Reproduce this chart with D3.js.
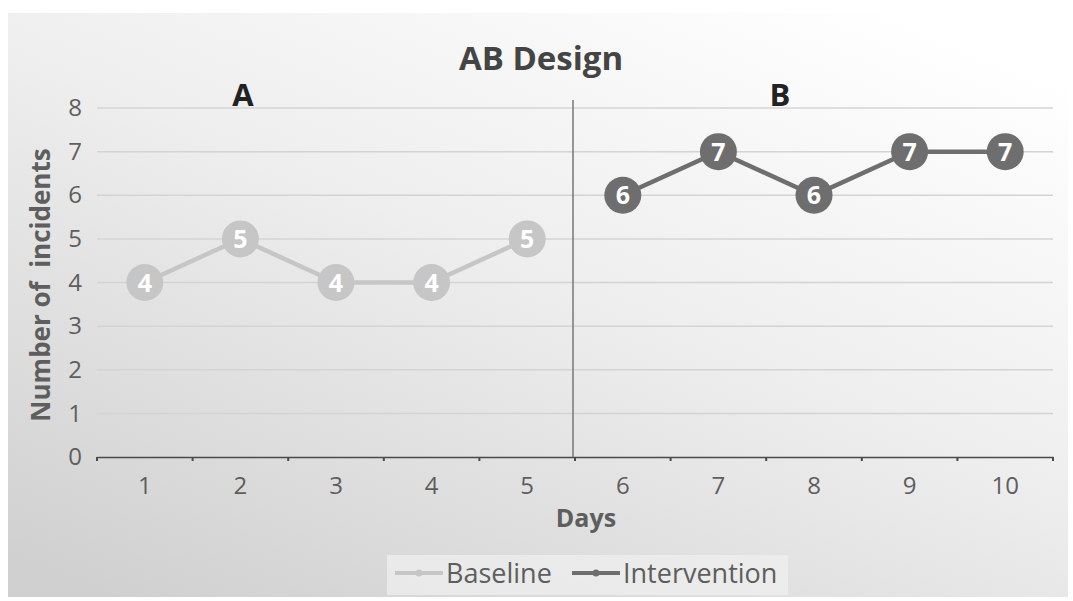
<!DOCTYPE html>
<html>
<head>
<meta charset="utf-8">
<script src="https://cdn.jsdelivr.net/npm/d3@7"></script>
<style>
  body { margin: 0; background: #fff; }
  text { font-family: "Open Sans", "Noto Sans", sans-serif; }
</style>
</head>
<body>
<div id="mychart"></div>
<script>
// AB design chart, baseline vs intervention

const chartTarget = "#mychart"

// data
const days = ["1", "2", "3", "4", "5", "6", "7", "8", "9", "10"]
const baselineDays = ["1", "2", "3", "4", "5"]
const baselineValues = [4, 5, 4, 4, 5]
const interventionDays = ["6", "7", "8", "9", "10"]
const interventionValues = [6, 7, 6, 7, 7]
const yTicks = [0, 1, 2, 3, 4, 5, 6, 7, 8]

const chartWidth = 1073
const chartHeight = 601

// margins
const marginTop = 108
const marginRight = 20
const marginBottom = 144
const marginLeft = 97

const baseColor = "#c6c6c6"
const intvColor = "#6e6e6e"
const textColor = "#5e5e5e"

const xScale = d3.scaleBand(days, [marginLeft, chartWidth - marginRight])
const yScale = d3.scaleLinear([0, 8], [chartHeight - marginBottom, marginTop])

const svg = d3.select(chartTarget)
  .append("svg")
  .attr("width", chartWidth)
  .attr("height", chartHeight)

// background panel with gradient
const defs = svg.append("defs")
const grad = defs.append("linearGradient")
  .attr("id", "bg")
  .attr("x1", "85%").attr("y1", "0%")
  .attr("x2", "10%").attr("y2", "100%")
grad.append("stop").attr("offset", "0%").attr("stop-color", "#ffffff")
grad.append("stop").attr("offset", "45%").attr("stop-color", "#eeeeee")
grad.append("stop").attr("offset", "100%").attr("stop-color", "#d0d0d0")

svg.append("rect")
  .attr("x", 8).attr("y", 13)
  .attr("width", 1060).attr("height", 584)
  .attr("fill", "url(#bg)")

// gridlines
svg.append("g")
  .selectAll("line")
  .data(yTicks.filter(d => d > 0))
  .join("line")
  .attr("x1", marginLeft)
  .attr("x2", chartWidth - marginRight)
  .attr("y1", d => yScale(d))
  .attr("y2", d => yScale(d))
  .attr("stroke", "#d4d4d4")
  .attr("stroke-width", 1.5)

// y axis labels
const yAxis = d3.axisLeft(yScale).tickValues(yTicks).tickSize(0).tickPadding(15)
svg.append("g")
  .attr("transform", `translate(${marginLeft},0)`)
  .call(yAxis)
  .call(g => g.select(".domain").remove())
  .call(g => g.selectAll("text")
    .attr("font-size", "24px")
    .attr("fill", textColor)
    .attr("font-family", "Open Sans"))

// x axis
const xAxis = d3.axisBottom(xScale).tickSize(0).tickPadding(20)
svg.append("g")
  .attr("transform", `translate(0,${yScale(0)})`)
  .call(xAxis)
  .call(g => g.select(".domain").attr("stroke", "#4a4a4a").attr("stroke-width", 1.5))
  .call(g => g.selectAll("text")
    .attr("font-size", "24px")
    .attr("fill", textColor)
    .attr("font-family", "Open Sans"))

// tick marks at category boundaries
svg.append("g")
  .selectAll("line")
  .data(days.concat(["end"]))
  .join("line")
  .attr("x1", (d, i) => marginLeft + i * xScale.step())
  .attr("x2", (d, i) => marginLeft + i * xScale.step())
  .attr("y1", yScale(0))
  .attr("y2", yScale(0) + 4)
  .attr("stroke", "#4a4a4a")
  .attr("stroke-width", 2)

// phase divider
const dividerX = xScale("6")
svg.append("line")
  .attr("x1", dividerX - 2).attr("x2", dividerX - 2)
  .attr("y1", 100).attr("y2", yScale(0))
  .attr("stroke", "#777")
  .attr("stroke-width", 1.5)

// title and phase labels
svg.append("text")
  .attr("x", 541).attr("y", 70)
  .attr("text-anchor", "middle")
  .attr("font-size", "33px")
  .attr("font-weight", "bold")
  .attr("fill", "#444")
  .text("AB Design")

svg.append("text")
  .attr("x", 243).attr("y", 106)
  .attr("text-anchor", "middle")
  .attr("font-size", "31px")
  .attr("font-weight", "bold")
  .attr("fill", "#222")
  .text("A")

svg.append("text")
  .attr("x", 780).attr("y", 106)
  .attr("text-anchor", "middle")
  .attr("font-size", "31px")
  .attr("font-weight", "bold")
  .attr("fill", "#222")
  .text("B")

// axis titles
svg.append("text")
  .attr("transform", `translate(50,285) rotate(-90)`)
  .attr("text-anchor", "middle")
  .attr("font-size", "26px")
  .attr("font-weight", "bold")
  .attr("fill", textColor)
  .attr("xml:space", "preserve")
  .text("Number of  incidents")

svg.append("text")
  .attr("x", 586).attr("y", 527)
  .attr("text-anchor", "middle")
  .attr("font-size", "25px")
  .attr("font-weight", "bold")
  .attr("fill", textColor)
  .text("Days")

// series
const cx = d => xScale(d) + xScale.bandwidth() / 2
const line = d3.line().x(d => cx(d[0])).y(d => yScale(d[1]))

function drawSeries(xs, vs, color) {
  const pts = xs.map((d, i) => [d, vs[i]])
  svg.append("path")
    .datum(pts)
    .attr("d", line)
    .attr("fill", "none")
    .attr("stroke", color)
    .attr("stroke-width", 4.5)
  const g = svg.append("g")
    .selectAll("g")
    .data(pts)
    .join("g")
    .attr("transform", d => `translate(${cx(d[0])},${yScale(d[1])})`)
  g.append("circle")
    .attr("r", 18.5)
    .attr("fill", color)
  g.append("text")
    .attr("text-anchor", "middle")
    .attr("dy", "0.36em")
    .attr("font-size", "25px")
    .attr("font-weight", "bold")
    .attr("fill", "#fff")
    .text(d => d[1])
}

drawSeries(baselineDays, baselineValues, baseColor)
drawSeries(interventionDays, interventionValues, intvColor)

// legend
const legend = svg.append("g")
legend.append("rect")
  .attr("x", 387).attr("y", 555)
  .attr("width", 401).attr("height", 40)
  .attr("fill", "#efefef")
  .attr("opacity", 0.75)

const legendItems = [
  { name: "Baseline", color: baseColor, x: 395 },
  { name: "Intervention", color: intvColor, x: 572 }
]
legendItems.forEach(item => {
  legend.append("line")
    .attr("x1", item.x).attr("x2", item.x + 48)
    .attr("y1", 573).attr("y2", 573)
    .attr("stroke", item.color)
    .attr("stroke-width", 4)
  legend.append("circle")
    .attr("cx", item.x + 24).attr("cy", 573)
    .attr("r", 3.5)
    .attr("fill", item.color)
  legend.append("text")
    .attr("x", item.x + 51).attr("y", 583)
    .attr("font-size", "27px")
    .attr("fill", textColor)
    .text(item.name)
})
</script>
</body>
</html>
